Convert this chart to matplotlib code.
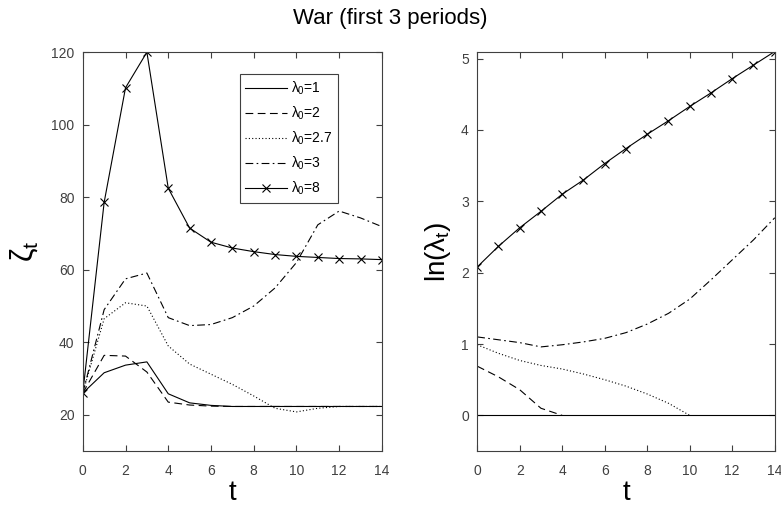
import numpy as np
import matplotlib
matplotlib.use("Agg")
import matplotlib.pyplot as plt

plt.rcParams['font.family'] = ['Liberation Sans', 'DejaVu Sans']
plt.rcParams['mathtext.fontset'] = 'custom'
plt.rcParams['mathtext.rm'] = 'Liberation Sans'
plt.rcParams['mathtext.it'] = 'Liberation Sans'

t = np.arange(15)
labels = ["$\\lambda_0$=1", "$\\lambda_0$=2", "$\\lambda_0$=2.7", "$\\lambda_0$=3", "$\\lambda_0$=8"]

# zeta_t
zeta_1 = [26, 31.6, 33.7, 34.6, 25.8, 23.3, 22.6, 22.3, 22.3, 22.3, 22.3, 22.3, 22.3, 22.3, 22.3]
zeta_2 = [26, 36.4, 36.2, 31.8, 23.5, 22.7, 22.4, 22.3, 22.3, 22.3, 22.3, 22.3, 22.3, 22.3, 22.3]
zeta_27 = [26, 46.5, 50.9, 50.0, 39.0, 34.0, 31.2, 28.4, 25.2, 21.8, 20.8, 21.8, 22.3, 22.3, 22.3]
zeta_3 = [26, 49.0, 57.5, 59.1, 46.8, 44.6, 44.9, 46.8, 50.0, 55.0, 62.0, 72.4, 76.2, 74.3, 71.9]
zeta_8 = [26, 78.6, 110.2, 120.0, 82.5, 71.5, 67.6, 66.0, 65.0, 64.2, 63.7, 63.4, 63.1, 63.0, 62.8]

# ln(lambda_t)
ln_1 = [0] * 15
ln_2 = [0.69, 0.54, 0.36, 0.10, 0, 0, 0, 0, 0, 0, 0, 0, 0, 0, 0]
ln_27 = [0.99, 0.87, 0.77, 0.70, 0.65, 0.58, 0.50, 0.41, 0.30, 0.17, 0.0, 0, 0, 0, 0]
ln_3 = [1.10, 1.06, 1.02, 0.96, 0.99, 1.03, 1.08, 1.16, 1.28, 1.43, 1.63, 1.90, 2.18, 2.46, 2.77]
ln_8 = [2.08, 2.37, 2.63, 2.86, 3.10, 3.30, 3.53, 3.74, 3.94, 4.13, 4.33, 4.52, 4.72, 4.91, 5.10]

styles = [dict(ls='-'), dict(ls=(0, (7, 4))), dict(ls=(0, (1, 2))),
          dict(ls=(0, (7, 3, 1.5, 3))), dict(ls='-', marker='x', ms=6, mew=0.8)]

fig = plt.figure(figsize=(7.81, 5.12), dpi=100)
ax1 = fig.add_axes([0.106, 0.119, 0.383, 0.779])
ax2 = fig.add_axes([0.611, 0.119, 0.381, 0.779])

for y, st, lab in zip([zeta_1, zeta_2, zeta_27, zeta_3, zeta_8], styles, labels):
    ax1.plot(t, y, color='black', lw=0.8, label=lab, **st)
for y, st in zip([ln_1, ln_2, ln_27, ln_3, ln_8], styles):
    y = np.array(y, dtype=float)
    if st.get('ls') != '-' and st.get('marker') is None:
        # curves that hit zero stop there
        idx = np.where(y <= 0)[0]
        if len(idx) > 0 and idx[0] > 0:
            ax2.plot(t[:idx[0] + 1], y[:idx[0] + 1], color='black', lw=0.8, **st)
            continue
    ax2.plot(t, y, color='black', lw=0.8, **st)

ax1.set_xlim(0, 14)
ax1.set_ylim(10, 120)
ax1.set_xticks(range(0, 15, 2))
ax1.set_yticks(range(20, 121, 20))
ax1.set_xlabel('t', fontsize=20, labelpad=2)
ax1.set_ylabel('$\\zeta_t$', fontsize=22, labelpad=8)

ax2.set_xlim(0, 14)
ax2.set_ylim(-0.5, 5.09)
ax2.set_xticks(range(0, 15, 2))
ax2.set_yticks(range(0, 6))
ax2.set_xlabel('t', fontsize=20, labelpad=2)
ax2.set_ylabel('ln($\\lambda_t$)', fontsize=20, labelpad=6)

for ax in (ax1, ax2):
    ax.tick_params(direction='in', top=True, right=True, labelsize=10,
                   colors='#404040', length=4)
    ax.tick_params(axis='x', pad=9)
    ax.tick_params(axis='y', pad=6)
    for s in ax.spines.values():
        s.set_color('#404040')
        s.set_linewidth(0.8)

leg = ax1.legend(loc='upper right', bbox_to_anchor=(0.853, 0.945), fontsize=10,
                 fancybox=False, framealpha=1, edgecolor='#404040',
                 handlelength=3.0, handletextpad=0.3, borderpad=0.4,
                 labelspacing=0.55, borderaxespad=0)
leg.get_frame().set_linewidth(0.8)

fig.suptitle('War (first 3 periods)', fontsize=16, y=0.985)

fig.savefig('out.png', dpi=100)
